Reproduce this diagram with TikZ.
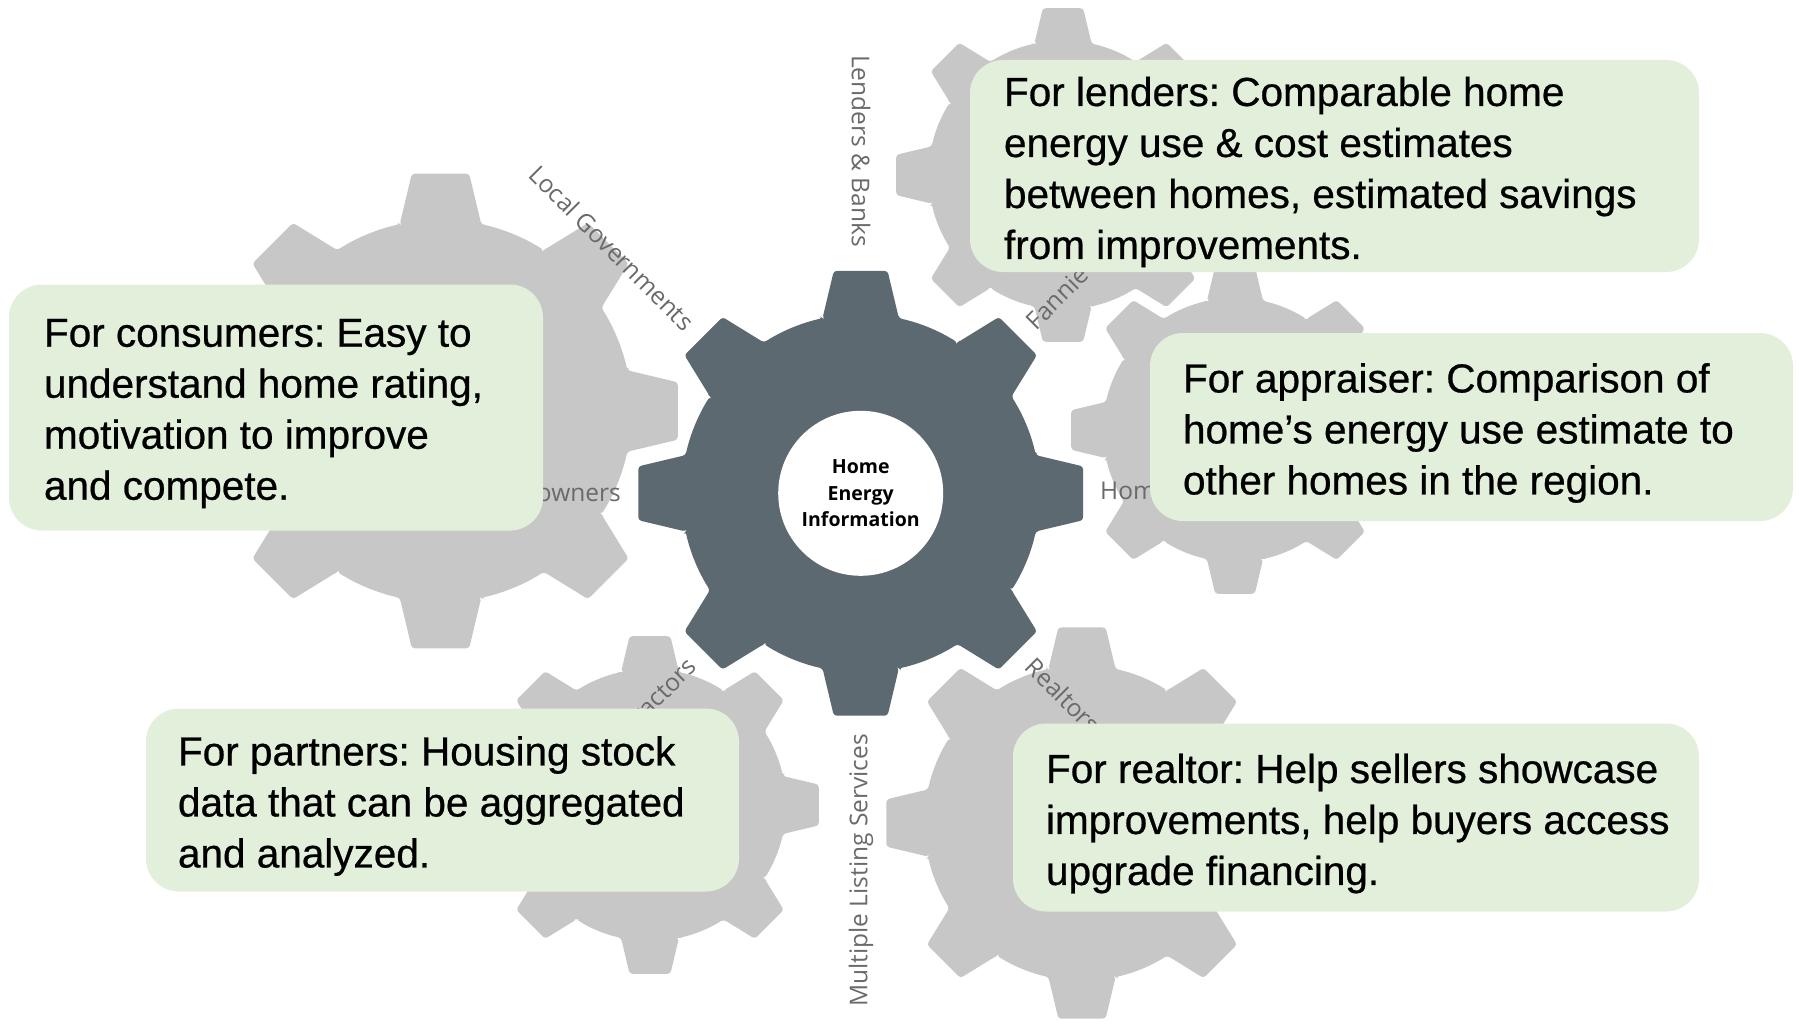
\documentclass[tikz,border=0pt]{standalone}
\usepackage{fontspec}
\setmainfont{Liberation Sans}
\newfontfamily\boxfont{Liberation Sans}[FakeBold=0.6]
\newfontfamily\lblfont{Open Sans}
\newfontfamily\ctrfont{Open Sans}
\definecolor{geardark}{HTML}{5D6971}
\definecolor{gearlight}{HTML}{C7C7C7}
\definecolor{boxgreen}{HTML}{E2EFDA}
\definecolor{lblgray}{HTML}{6A6A6A}
\newcommand{\mygear}[4]{%
  \begin{scope}[shift={(#1,#2)}, scale=#3]
    \fill[#4, rounded corners=3pt] ({-12.3}:0.8)
      \foreach \a in {0,45,...,315} {
        -- ({\a-12.3}:0.8) -- ({\a-6.9}:1) -- ({\a+6.9}:1) -- ({\a+12.3}:0.8)
        arc[start angle=\a+12.3, end angle=\a+32.7, radius=0.8]
      } -- cycle;
  \end{scope}}
\tikzset{
  infobox/.style={fill=boxgreen, draw=none, rounded corners=33pt, inner sep=0pt},
  infotext/.style={align=left, inner sep=0pt, anchor=west, text=black,
    font=\boxfont\frenchspacing\fontsize{40.5}{51}\selectfont},
  spokelbl/.style={font=\lblfont\fontsize{24.5}{28}\selectfont, text=lblgray, inner sep=0pt},
}
\begin{document}
\begin{tikzpicture}[x=1pt, y=-1pt]
\useasboundingbox (0,0) rectangle (1799,1025);
% grey gears
\mygear{440.5}{411}{239}{gearlight}
\mygear{1063}{175}{168}{gearlight}
\mygear{1235}{430}{165}{gearlight}
\mygear{650}{805}{170}{gearlight}
\mygear{1082}{823}{197}{gearlight}
% central gear
\mygear{860.7}{493.3}{224}{geardark}
\node[circle, fill=white, minimum size=165pt, inner sep=0pt, align=center,
  font=\ctrfont\bfseries\fontsize{19.5}{26.7}\selectfont] (hei) at (860.7,493.3)
  {Home\\Energy\\Information};
% spoke labels
\node[spokelbl, rotate=-90, anchor=east] (lend) at (861,247) {Lenders \& Banks};
\node[spokelbl, rotate=90, anchor=east] (mls) at (861,734) {Multiple Listing Services};
\node[spokelbl, rotate=-45, anchor=east] (locgov) at (690,326) {Local Governments};
\node[spokelbl, rotate=45, anchor=east] (contr) at (692,662) {Contractors};
\node[spokelbl, anchor=east] (homeown) at (621,493) {Homeowners};
\node[spokelbl, anchor=west] (apprais) at (1100,493) {Home Appraisers};
\node[spokelbl, rotate=45, anchor=west] (fannie) at (1030,325) {Fannie Mae};
\node[spokelbl, rotate=-45, anchor=west] (realt) at (1030,662) {Realtors};
% boxes
\node[infobox, minimum width=729pt, minimum height=212pt] (blend) at (1334.5,166) {};
\node[infotext] (tlend) at ([xshift=34pt, yshift=-6pt]blend.west)
  {For lenders: Comparable home\\energy use \& cost estimates\\between homes, estimated savings\\from improvements.};
\node[infobox, minimum width=534pt, minimum height=246pt] (bcons) at (276,407.5) {};
\node[infotext] (tcons) at ([xshift=35pt, yshift=-6pt]bcons.west)
  {For consumers: Easy to\\understand home rating,\\motivation to improve\\and compete.};
\node[infobox, minimum width=643pt, minimum height=188pt] (bappr) at (1471.5,427) {};
\node[infotext] (tappr) at ([xshift=33pt, yshift=-6pt]bappr.west)
  {For appraiser: Comparison of\\home’s energy use estimate to\\other homes in the region.};
\node[infobox, minimum width=593pt, minimum height=183pt] (bpart) at (442.5,800) {};
\node[infotext] (tpart) at ([xshift=32pt, yshift=-6pt]bpart.west)
  {For partners: Housing stock\\data that can be aggregated\\and analyzed.};
\node[infobox, minimum width=686pt, minimum height=188pt] (breal) at (1356,817.5) {};
\node[infotext] (treal) at ([xshift=33pt, yshift=-6pt]breal.west)
  {For realtor: Help sellers showcase\\improvements, help buyers access\\upgrade financing.};
\end{tikzpicture}
\end{document}
